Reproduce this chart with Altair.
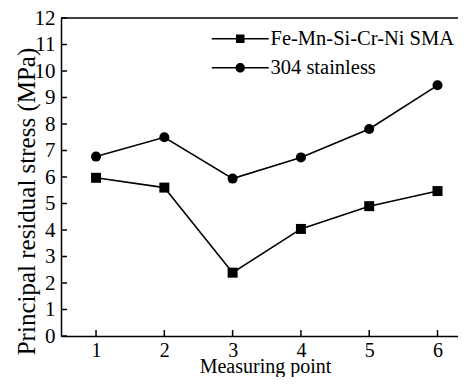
import altair as alt
import pandas as pd

points = [1, 2, 3, 4, 5, 6]
series_names = ["Fe-Mn-Si-Cr-Ni SMA", "304 stainless"]
sma_values = [5.97, 5.60, 2.39, 4.04, 4.90, 5.47]
ss_values = [6.77, 7.50, 5.94, 6.74, 7.81, 9.46]
x_ticks = [1, 2, 3, 4, 5, 6]
y_ticks = list(range(0, 13))

X_MIN, X_MAX = 0.487, 6.30
Y_MIN, Y_MAX = 0, 12
W, H = 397, 318
TICK = 6
x_tick_len = TICK * (X_MAX - X_MIN) / W
y_tick_len = TICK * (Y_MAX - Y_MIN) / H

df = pd.DataFrame({
    "point": points * 2,
    "stress": sma_values + ss_values,
    "series": [series_names[0]] * len(points) + [series_names[1]] * len(points),
})
xt = pd.DataFrame({"point": x_ticks, "s0": Y_MIN, "s1": Y_MIN + y_tick_len})
yt = pd.DataFrame({"stress": y_ticks, "p0": X_MIN, "p1": X_MIN + x_tick_len})

FONT = "Liberation Serif"

sq = "M-5.7,-0.16H5.7V0.16H-5.7ZM-0.85,-0.85H0.85V0.85H-0.85Z"
ci = "M-5.7,-0.16H5.7V0.16H-5.7ZM-0.95,0A0.95,0.95,0,1,1,0.95,0A0.95,0.95,0,1,1,-0.95,0Z"
shape_expr = f"datum.value === '{series_names[0]}' ? '{sq}' : '{ci}'"

xscale = alt.Scale(domain=[X_MIN, X_MAX], nice=False, zero=False)
yscale = alt.Scale(domain=[Y_MIN, Y_MAX], nice=False)

x_axis = alt.Axis(
    values=x_ticks, format="d", title="Measuring point", ticks=False,
    labelPadding=4, titleX=204, titleY=36, titleBaseline="alphabetic",
    titleFontSize=20, labelOverlap=False, labelFontSize=20,
)
y_axis = alt.Axis(
    values=y_ticks, format="d", title="Principal residual stress (MPa)", ticks=False,
    labelPadding=6, titleAngle=270, titleX=-27, titleY=183,
    titleBaseline="alphabetic", titleAlign="center", titleFontSize=25,
    labelOverlap=False,
)
X = alt.X("point:Q", scale=xscale, axis=x_axis)
Y = alt.Y("stress:Q", scale=yscale, axis=y_axis)

lines = alt.Chart(df).mark_line(strokeWidth=1.6).encode(
    x=X, y=Y,
    color=alt.Color(
        "series:N",
        scale=alt.Scale(domain=series_names, range=["black", "black"]),
        legend=alt.Legend(
            title=None, orient="none", legendX=169, legendY=10.5,
            labelFont=FONT, labelFontSize=20.5, labelColor="black", labelLimit=400,
            labelOffset=20, padding=0, rowPadding=8, symbolSize=100,
            symbolType=alt.ExprRef(shape_expr),
            symbolFillColor="black", symbolStrokeColor="black", symbolStrokeWidth=0,
        ),
    ),
)

sma_pts = alt.Chart(df).transform_filter(
    alt.datum.series == series_names[0]
).mark_point(filled=True, size=100, color="black", opacity=1, shape="square").encode(x=X, y=Y)
ss_pts = alt.Chart(df).transform_filter(
    alt.datum.series == series_names[1]
).mark_point(filled=True, size=100, color="black", opacity=1, shape="circle").encode(x=X, y=Y)

xticks = alt.Chart(xt).mark_rule(color="black", strokeWidth=1.5).encode(
    x=X, y=alt.Y("s0:Q", scale=yscale, axis=y_axis), y2="s1:Q"
)
yticks = alt.Chart(yt).mark_rule(color="black", strokeWidth=1.5).encode(
    y=Y, x=alt.X("p0:Q", scale=xscale, axis=x_axis), x2="p1:Q"
)

top_line = alt.Chart(pd.DataFrame({"a": [0]})).mark_rule(color="black", strokeWidth=1.5).encode(
    x=alt.value(0), x2=alt.value(W), y=alt.value(0)
)

chart = alt.layer(lines, sma_pts, ss_pts, xticks, yticks, top_line).properties(
    width=W, height=H,
    autosize=alt.AutoSizeParams(type="none"),
    padding={"left": 53, "top": 10, "right": 0, "bottom": 41},
).configure_view(stroke=None).configure_axis(
    grid=False, domainColor="black", domainWidth=1.5,
    labelFont=FONT, labelFontSize=21, labelColor="black",
    titleFont=FONT, titleFontWeight="normal", titleColor="black",
)

chart.save("out.html", embed_options={"renderer": "svg", "actions": False})
